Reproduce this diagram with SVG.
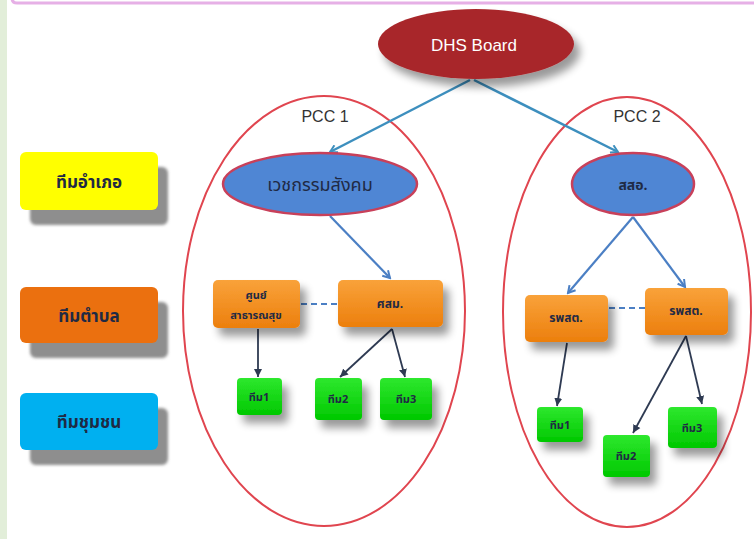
<svg xmlns="http://www.w3.org/2000/svg" width="754" height="539" viewBox="0 0 754 539">
  <defs>
    <style>
      .th { font-family: "Noto Sans Thai", "Tahoma", "Noto Sans", "DejaVu Sans", sans-serif; font-weight: bold; fill: #1f2a44; text-anchor: middle; }
      .lat { font-family: "Liberation Sans", "DejaVu Sans", sans-serif; text-anchor: middle; }
      .pcc { fill: none; stroke: #e0454f; stroke-width: 2; }
      .org { fill: url(#gOrange); filter: url(#sh); }
      .grn { fill: url(#gGreen); filter: url(#sh); }
      .blue-ell { fill: #4f86d4; stroke: #c8405a; stroke-width: 2.5; }
      .legsh { fill: #8e8e8e; filter: url(#soft); }
      .c-blue { stroke: #4b7fc4; stroke-width: 2.2; fill: none; marker-end: url(#aBlue); }
      .c-teal { stroke: #3d8fbe; stroke-width: 2.5; fill: none; marker-end: url(#aTeal); }
      .c-dark { stroke: #2e3a52; stroke-width: 1.8; fill: none; marker-end: url(#aDark); }
      .c-dash { stroke: #4b7fc4; stroke-width: 2; stroke-dasharray: 6 4; fill: none; }
    </style>
    <linearGradient id="gOrange" x1="0" y1="0" x2="0" y2="1">
      <stop offset="0" stop-color="#f9a23a"/>
      <stop offset="1" stop-color="#ec7f0d"/>
    </linearGradient>
    <linearGradient id="gGreen" x1="0" y1="0" x2="0" y2="1">
      <stop offset="0" stop-color="#2ee82e"/>
      <stop offset="1" stop-color="#00c800"/>
    </linearGradient>
    <filter id="sh" x="-30%" y="-30%" width="170%" height="180%">
      <feGaussianBlur in="SourceAlpha" stdDeviation="4"/>
      <feOffset dx="6" dy="8" result="b"/>
      <feComponentTransfer><feFuncA type="linear" slope="0.4"/></feComponentTransfer>
      <feMerge><feMergeNode/><feMergeNode in="SourceGraphic"/></feMerge>
    </filter>
    <filter id="soft" x="-10%" y="-20%" width="120%" height="140%">
      <feGaussianBlur stdDeviation="1.5"/>
    </filter>
    <marker id="aBlue" markerWidth="10" markerHeight="10" refX="8" refY="5" orient="auto" markerUnits="userSpaceOnUse">
      <path d="M1,1 L8,5 L1,9" fill="none" stroke="#4b7fc4" stroke-width="2"/>
    </marker>
    <marker id="aTeal" markerWidth="10" markerHeight="10" refX="8" refY="5" orient="auto" markerUnits="userSpaceOnUse">
      <path d="M1,1 L8,5 L1,9" fill="none" stroke="#3d8fbe" stroke-width="2"/>
    </marker>
    <marker id="aDark" markerWidth="9" markerHeight="9" refX="8" refY="4.5" orient="auto" markerUnits="userSpaceOnUse">
      <path d="M0,0.5 L8,4.5 L0,8.5 Z" fill="#2e3a52"/>
    </marker>
  </defs>

  <rect x="0" y="0" width="754" height="539" fill="#ffffff"/>
  <rect x="0" y="0" width="7" height="539" fill="#e2eed9"/>
  <path d="M12,-6 L12,-2 Q12,3 17,3 L754,3" fill="none" stroke="#e6b0e6" stroke-width="3"/>

  <!-- PCC boundaries -->
  <g id="pcc1">
    <ellipse class="pcc" cx="324" cy="311" rx="141" ry="215"/>
    <text class="lat" x="325" y="122" font-size="16" fill="#333">PCC 1</text>
  </g>
  <g id="pcc2">
    <ellipse class="pcc" cx="627" cy="312" rx="124" ry="215"/>
    <text class="lat" x="637" y="122" font-size="16" fill="#333">PCC 2</text>
  </g>

  <!-- connectors -->
  <g id="connectors">
    <line class="c-teal" x1="470" y1="80" x2="330" y2="152"/>
    <line class="c-teal" x1="474" y1="80" x2="618" y2="152"/>
    <line class="c-blue" x1="330" y1="216" x2="390" y2="278"/>
    <line class="c-blue" x1="633" y1="217" x2="568" y2="293"/>
    <line class="c-blue" x1="633" y1="217" x2="685" y2="287"/>
    <line class="c-dash" x1="301" y1="304" x2="338" y2="304"/>
    <line class="c-dash" x1="609" y1="308" x2="645" y2="308"/>
    <line class="c-dark" x1="258" y1="329" x2="258" y2="377"/>
    <line class="c-dark" x1="392" y1="329" x2="340" y2="377"/>
    <line class="c-dark" x1="392" y1="329" x2="405" y2="377"/>
    <line class="c-dark" x1="567" y1="343" x2="557" y2="406"/>
    <line class="c-dark" x1="686" y1="336" x2="633" y2="433"/>
    <line class="c-dark" x1="686" y1="336" x2="702" y2="404"/>
  </g>

  <!-- DHS Board -->
  <g id="dhs">
    <ellipse cx="476" cy="44" rx="98" ry="35" fill="#a8262a" filter="url(#sh)"/>
    <text class="lat" x="474" y="51" font-size="17" fill="#ffffff">DHS Board</text>
  </g>

  <!-- legend -->
  <g id="leg-amphoe">
    <rect class="legsh" x="30" y="167" width="138" height="58" rx="6"/>
    <rect x="20" y="152" width="138" height="58" rx="6" fill="#ffff00"/>
    <text class="th" x="89" y="188" font-size="17" fill="#3a3210">ทีมอำเภอ</text>
  </g>
  <g id="leg-tambon">
    <rect class="legsh" x="30" y="302" width="138" height="56" rx="6"/>
    <rect x="20" y="287" width="138" height="56" rx="6" fill="#eb700f"/>
    <text class="th" x="89" y="322" font-size="17">ทีมตำบล</text>
  </g>
  <g id="leg-chumchon">
    <rect class="legsh" x="30" y="408" width="138" height="57" rx="6"/>
    <rect x="20" y="393" width="138" height="57" rx="6" fill="#00b0f0"/>
    <text class="th" x="89" y="428" font-size="17">ทีมชุมชน</text>
  </g>

  <!-- PCC1 nodes -->
  <g id="vetchakam">
    <ellipse class="blue-ell" cx="320" cy="184" rx="97" ry="31"/>
    <text class="th" x="320" y="191" font-size="18" font-weight="normal" style="font-weight:normal">เวชกรรมสังคม</text>
  </g>
  <g id="soon">
    <rect class="org" x="213" y="280" width="87" height="48" rx="5"/>
    <text class="th" x="256" y="299" font-size="11">ศูนย์</text>
    <text class="th" x="256" y="319" font-size="11">สาธารณสุข</text>
  </g>
  <g id="sasom">
    <rect class="org" x="338" y="280" width="105" height="47" rx="5"/>
    <text class="th" x="390" y="308" font-size="12">ศสม.</text>
  </g>
  <g id="p1-team1">
    <rect class="grn" x="237" y="378" width="45" height="37" rx="4"/>
    <text class="th" x="259" y="401" font-size="11">ทีม1</text>
  </g>
  <g id="p1-team2">
    <rect class="grn" x="315" y="378" width="47" height="42" rx="4"/>
    <text class="th" x="338" y="403" font-size="11">ทีม2</text>
  </g>
  <g id="p1-team3">
    <rect class="grn" x="380" y="378" width="52" height="42" rx="4"/>
    <text class="th" x="406" y="403" font-size="11">ทีม3</text>
  </g>

  <!-- PCC2 nodes -->
  <g id="sasoa">
    <ellipse class="blue-ell" cx="633" cy="184" rx="61" ry="31"/>
    <text class="th" x="633" y="190" font-size="14">สสอ.</text>
  </g>
  <g id="rpst-left">
    <rect class="org" x="525" y="295" width="83" height="47" rx="5"/>
    <text class="th" x="566" y="322" font-size="12">รพสต.</text>
  </g>
  <g id="rpst-right">
    <rect class="org" x="645" y="288" width="83" height="47" rx="5"/>
    <text class="th" x="686" y="315" font-size="12">รพสต.</text>
  </g>
  <g id="p2-team1">
    <rect class="grn" x="537" y="407" width="46" height="35" rx="4"/>
    <text class="th" x="560" y="429" font-size="11">ทีม1</text>
  </g>
  <g id="p2-team2">
    <rect class="grn" x="603" y="435" width="47" height="42" rx="4"/>
    <text class="th" x="626" y="460" font-size="11">ทีม2</text>
  </g>
  <g id="p2-team3">
    <rect class="grn" x="668" y="407" width="49" height="41" rx="4"/>
    <text class="th" x="692" y="432" font-size="11">ทีม3</text>
  </g>
</svg>
